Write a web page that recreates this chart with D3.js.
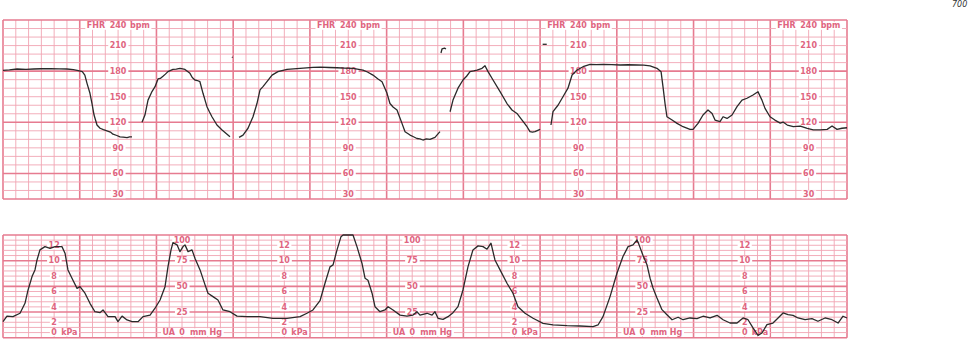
<!DOCTYPE html>
<html><head><meta charset="utf-8">
<script src="https://cdn.jsdelivr.net/npm/d3@7"></script>
<style>html,body{margin:0;padding:0;background:#fff;}svg{display:block;}</style>
</head><body>
<script>
// ---- DATA (time in seconds from left edge, 11 minutes shown) ----
const fhrTicks = [210, 180, 150, 120, 90, 60, 30];
const fhrLabelTimes = [90, 270, 450, 630];
const kpaTicks = [12, 10, 8, 6, 4, 2];
const mmhgTicks = [100, 75, 50, 25];
const kpaLabelTimes = [40, 220, 400, 580];
const mmhgLabelTimes = [140, 320, 500];

// FHR trace segments [seconds, bpm]
const fhrSeg1 = [[0,181],[5,181.5],[11,182.5],[18,182],[24,182.5],[30,182.8],[37,183],[44,182.6],[50,182.5],[55,181.8],[58,181],[62,179.4],[64,175.4],[65.7,165.7],[68,154],[69.6,142],[71.2,128.5],[73.5,116.8],[75.9,113],[78.5,111.5],[81.3,110],[84,108.5],[86,106],[89,104.5],[91.5,103],[94,102.5],[97,102],[99,102.8],[100.9,103]];
const fhrSeg2 = [[108.7,120],[111,128.5],[113.4,146],[116.5,156],[118.9,161.8],[121.2,170.8],[123,171.5],[125.1,174],[127,176.5],[129,179.4],[132.9,182],[135.5,182.4],[138.4,183.3],[140.5,182.6],[142.3,182],[146.2,177.4],[148,172.5],[150.1,169.6],[152,169],[154,167.6],[156.4,154],[159.5,138.3],[161.5,132],[163.4,126.5],[167.3,116.8],[171.3,111],[175.2,106],[177.5,103]];
const fhrSeg3 = [[184.6,102.3],[187.7,105],[191.6,113],[195.5,126.5],[198.6,142],[201,158],[203.3,161.8],[206.4,167.6],[210.4,175.4],[215,179.4],[222.1,182],[232.3,183.3],[242.4,184.4],[248,184.8],[255,184.3],[261.2,184],[267,183.6],[273.7,183.3],[281.5,181.3],[285,179],[289.3,175.4],[293,171],[296.4,167.6],[300.3,154],[302.6,142],[305,138],[308.1,134.4],[312,118.7],[314.4,109],[318.3,105],[321,103],[323.7,101],[326,100.6],[328.4,99.2],[331,100.5],[333.9,100],[337.8,102.3],[341.7,109]];
const fhrSeg4 = [[349.6,132.4],[351.9,146],[355.8,160],[359.7,169.6],[362.5,174],[365.2,179.4],[368,180.2],[370.7,181.3],[374.6,183.3],[376.9,186.4],[379.3,179.4],[383.2,169.6],[388.7,156],[394.1,142],[398,134.4],[401.9,130.4],[405.9,122.6],[409.8,114.8],[412.1,109],[414,108.5],[416,109],[420,111.6]];
const fhrSeg5 = [[428.5,116.8],[430.1,132.4],[434,140],[437.9,150],[441.8,160],[445,175.4],[448.9,181.3],[453.6,185.2],[459.1,188],[464,187.6],[469.2,188],[476,187.7],[482.5,187.2],[489,187.5],[495.8,187.2],[501,187],[506,186.2],[511.4,183.3],[514.6,179.4],[516.1,161.8],[517.7,142],[519.2,126.5],[523.2,122.6],[527.1,118.7],[531.8,114.8],[537.2,111.6],[539.6,111.6],[543.5,118.7],[547.4,128.5],[551.3,134.4],[554.5,130.4],[556.8,122.6],[560.7,120.7],[563.1,126.5],[566.2,124.5],[570.1,128.5],[574,138.3],[577.9,146],[581.8,148.2],[586.5,152],[590.4,155.9],[593.5,146],[595.9,136.3],[599.8,126.5],[603.6,122.6],[607.8,119],[610,120.3],[613.3,116.8],[618,114.8],[623.5,115.6],[628.9,112.9],[633.6,111],[639,111],[644.5,111.7],[648.3,115.6],[652.2,111.7],[656.1,113],[660,113.6]];
// small artefacts on the FHR channel
const fhrDot = [[179,196.6],[179.6,196]];
const fhrHook = [[342.5,201.3],[343.3,206],[345.3,207],[346.4,206]];
const fhrDash = [[422,211.5],[425.2,211.5]];

// Uterine activity trace [seconds, mmHg]
const uaTrace = [[0,15.6],[3.1,21],[7.8,20.5],[13.3,23.8],[17.2,33.5],[19.6,46.5],[22.7,59.5],[25,66],[26.6,75.7],[28.9,85.5],[32.8,88.7],[36.8,87],[40.7,88.7],[46.1,88.7],[48.5,82.3],[50.8,66],[54.7,56],[57.9,48],[60.2,49.7],[64.1,43.3],[68,33.5],[71.9,25.3],[75.9,24.4],[78.2,27],[82.1,20.5],[87.6,20.5],[89.9,15.6],[93.1,21],[97,17.3],[100.9,15.6],[105.6,15.6],[109.5,20.5],[115,22],[118.9,28.7],[122.8,36.7],[126.7,49.7],[129,69],[131.4,85.5],[132.9,92.6],[136.1,90.4],[138.4,83.8],[140.8,88.7],[142.3,90.4],[144.7,83.8],[147.8,85.5],[150.1,77.4],[154.1,66],[158,51.4],[160.3,43.3],[164.2,40],[168.1,36.7],[172,27],[177.5,25.3],[183,21],[190.8,20.5],[201,20.5],[211.1,18.9],[222.1,18.9],[232.3,20.5],[237.7,23.8],[242.4,27],[247.9,36],[251.8,53],[255.7,69],[258.1,70.9],[261.2,85.5],[264.3,98.4],[265.9,100],[273.7,100],[276.8,88.7],[280.7,72.5],[283.1,57.9],[285.4,56],[288.6,43.3],[290.9,30.2],[294.8,25.3],[298.7,27],[301.1,30.2],[305,27],[310.5,22],[315.9,21],[320.6,22],[323.7,25.3],[326.1,22],[331.6,23.8],[335.5,22],[337.8,25.3],[340.2,18.9],[344.1,17.9],[348,20.5],[351.9,24.4],[355.8,30.2],[359.7,46.5],[363.6,69],[367.5,85.5],[371.5,89.4],[375.4,88.7],[378.5,86.2],[381.6,92],[384.7,75.7],[388.7,66],[394.1,53],[398.8,43.3],[402.7,30.2],[408.2,23.8],[414.5,18.9],[422.3,14],[430.1,12.4],[441.1,11.7],[451.2,11.4],[461.4,10.7],[465.3,12.4],[469.2,20.5],[474.7,40],[480.1,62.8],[484.8,79],[488.8,88.7],[492.7,90.4],[495.8,95.2],[497.4,90.4],[500.5,80],[503.6,71],[506,58],[508.3,48.4],[511.4,38.7],[515.3,27.3],[519.2,22.4],[523.2,17.5],[527.9,19.9],[531.8,17.5],[537.2,19.2],[542.7,18.5],[547.4,20.9],[552.9,19.2],[558.4,21.8],[563.1,17.5],[568.5,14.3],[574,14.3],[578.7,19.2],[582.6,17.5],[586.5,9.5],[590.4,2.3],[593.5,4.6],[597.4,12.7],[602.1,14.3],[606.1,19.2],[610,24.1],[613.9,22.4],[617.8,21.8],[621.7,19.2],[627.2,17.5],[632.6,18.5],[637.3,16],[642.8,19.2],[648.3,17.5],[653,14.3],[656.9,20.9],[660,19.2]];

// ---- DRAWING ----
const W = 975, H = 353;
const gridMajor = "#e67b90", gridMinor = "#f1a5b3", labelColor = "#e0657f", traceColor = "#2a2a2a";
const svg = d3.select("body").append("svg").attr("width", W).attr("height", H);

const x = d3.scaleLinear().domain([0, 660]).range([3, 847]);
const yF = d3.scaleLinear().domain([30, 240]).range([199, 20]);
const yU = d3.scaleLinear().domain([0, 100]).range([337.7, 235]);

function grid(yScale, vals, majorTest) {
  const g = svg.append("g");
  const [y0, y1] = yScale.range();
  d3.range(0, 661, 10).forEach(s => {
    const maj = s % 60 === 0;
    g.append("line").attr("x1", x(s)).attr("x2", x(s)).attr("y1", y0).attr("y2", y1)
      .attr("stroke", maj ? gridMajor : gridMinor).attr("stroke-width", maj ? 1.6 : 0.9);
  });
  vals.forEach(v => {
    const maj = majorTest(v);
    g.append("line").attr("x1", x(0)).attr("x2", x(660)).attr("y1", yScale(v)).attr("y2", yScale(v))
      .attr("stroke", maj ? gridMajor : gridMinor).attr("stroke-width", maj ? 1.6 : 0.9);
  });
}
grid(yF, d3.range(30, 241, 10), v => v % 60 === 0 || v === 30 || v === 240);
grid(yU, d3.range(0, 101, 5), v => v % 25 === 0);

const labels = svg.append("g").attr("font-family", "DejaVu Sans, Verdana, sans-serif")
  .attr("font-size", 8).attr("font-weight", "bold").attr("fill", labelColor);

function label(parts, cx, cy) {
  const g = labels.append("g");
  const bg = g.append("rect").attr("fill", "#fff");
  parts.forEach(([t, dx, anchor]) => {
    g.append("text").attr("x", cx + dx).attr("y", cy).attr("dy", "0.35em")
      .attr("text-anchor", anchor).text(t);
  });
  const b = g.node().getBBox();
  bg.attr("x", b.x - 1.5).attr("y", b.y + 0.5).attr("width", b.width + 3).attr("height", b.height - 1);
}

fhrLabelTimes.forEach(t => {
  const cx = x(t);
  label([["FHR", -13, "end"], ["240", 0, "middle"], ["bpm", 12, "start"]], cx, 25.5);
  fhrTicks.forEach(v => {
    label([[String(v), 0, "middle"]], cx, v === 30 ? 194 : yF(v));
  });
});
kpaLabelTimes.forEach(t => {
  const cx = x(t);
  kpaTicks.forEach(v => label([[String(v), 0, "middle"]], cx, yU(v * 7.50062)));
  label([["0", 0, "middle"], ["kPa", 7, "start"]], cx, 332);
});
mmhgLabelTimes.forEach(t => {
  const cx = x(t);
  mmhgTicks.forEach(v => label([[String(v), 0, "middle"]], cx, v === 100 ? 240.5 : yU(v)));
  label([["UA", -7, "end"], ["0", 0, "middle"], ["mm Hg", 8, "start"]], cx, 332);
});

// traces
const lineF = d3.line().x(d => x(d[0])).y(d => yF(d[1]));
const lineU = d3.line().x(d => x(d[0])).y(d => yU(d[1]));
[fhrSeg1, fhrSeg2, fhrSeg3, fhrSeg4, fhrSeg5, fhrDot, fhrHook, fhrDash].forEach(seg => {
  svg.append("path").attr("d", lineF(seg)).attr("fill", "none")
    .attr("stroke", traceColor).attr("stroke-width", 1.3).attr("stroke-linejoin", "round");
});
svg.append("path").attr("d", lineU(uaTrace)).attr("fill", "none")
  .attr("stroke", traceColor).attr("stroke-width", 1.3).attr("stroke-linejoin", "round");

// page number fragment at top right
svg.append("text").attr("x", 952).attr("y", 7).attr("font-family", "DejaVu Sans, sans-serif")
  .attr("font-size", 8).attr("font-style", "italic").attr("fill", "#333").text("700");
</script>
</body></html>
